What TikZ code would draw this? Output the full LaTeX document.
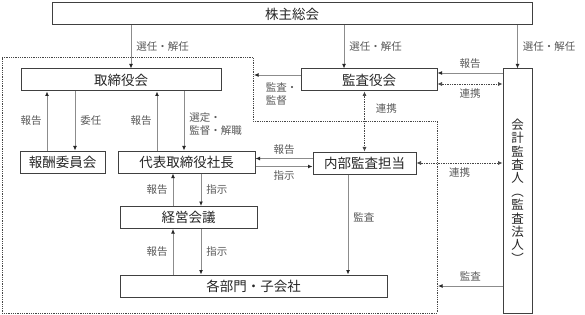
\documentclass[tikz,border=0pt]{standalone}
\usepackage{fontspec}
\setmainfont{Noto Sans CJK JP}
\usetikzlibrary{arrows.meta,positioning}
\definecolor{boxline}{RGB}{64,64,64}
\definecolor{arrline}{RGB}{140,140,140}
\definecolor{labelgray}{RGB}{89,89,89}
\definecolor{dotline}{RGB}{70,70,70}

\begin{document}
\begin{tikzpicture}[x=1pt,y=-1pt,
  unit/.style={draw=boxline,line width=1pt,fill=white,minimum height=22pt,inner sep=0pt,font=\fontsize{13.5}{16}\selectfont,text=black!85},
  arr/.style={arrline,line width=0.9pt,-{Latex[length=4.5pt,width=4pt,color=black!85]}},
  link/.style={dotline,line width=0.7pt,densely dotted,{Latex[length=4.5pt,width=4pt]}-{Latex[length=4.5pt,width=4pt]}},
  zone/.style={dotline,line width=0.8pt,densely dotted},
  lbl/.style={font=\fontsize{10.5}{13}\selectfont,text=labelgray,inner sep=2pt}]
\useasboundingbox (0,0) rectangle (585,315);
\draw[zone] (2,57) -- (253,57) -- (253,121) -- (437,121) -- (437,313) -- (2,313) -- cycle;
\node[unit,minimum width=480pt] (kabu) at (292,14) {株主総会};
\node[unit,minimum width=200pt] (tori) at (121,80) {取締役会};
\node[unit,minimum width=136pt] (kansa) at (369,80) {監査役会};
\node[unit,minimum width=85pt] (hoshu) at (62.5,162) {報酬委員会};
\node[unit,minimum width=137pt] (daihyo) at (186.5,162) {代表取締役社長};
\node[unit,minimum width=103pt] (naibu) at (364.5,163) {内部監査担当};
\node[unit,minimum width=137pt] (keiei) at (188.5,217.5) {経営会議};
\node[unit,minimum width=267pt] (kakubu) at (253.5,286) {各部門・子会社};
\node[unit,minimum width=29pt,minimum height=244pt,align=center,font=\fontsize{12.5}{13.4}\selectfont] (kaikei) at (517.5,191) {会\\計\\監\\査\\人\\︵\\監\\査\\法\\人\\︶};
\coordinate (lim1) at (254,0);
\coordinate (lim2) at (438,0);
\draw[arr] ([xshift=10pt]tori.north |- kabu.south) -- ([xshift=10pt]tori.north) node[lbl,midway,right=3pt] {選任・解任};
\draw[arr] ([xshift=-25pt]kansa.north |- kabu.south) -- ([xshift=-25pt]kansa.north) node[lbl,midway,right=3pt] {選任・解任};
\draw[arr] (kaikei.north |- kabu.south) -- (kaikei.north) node[lbl,midway,right=3pt] {選任・解任};
\draw[arr] ([xshift=-15.5pt]hoshu.north) -- ([xshift=-15.5pt]hoshu.north |- tori.south) node[lbl,midway,left=3pt] {報告};
\draw[arr] ([xshift=12.5pt]hoshu.north |- tori.south) -- ([xshift=12.5pt]hoshu.north) node[lbl,midway,right=3pt] {委任};
\draw[arr] ([xshift=-29.5pt]daihyo.north) -- ([xshift=-29.5pt]daihyo.north |- tori.south) node[lbl,midway,left=3pt] {報告};
\draw[arr] ([xshift=-2.5pt]daihyo.north |- tori.south) -- ([xshift=-2.5pt]daihyo.north) node[lbl,pos=0.55,right=3pt,align=left] {選定・\\監督・解職};
\draw[arr] ([xshift=-15.5pt]keiei.north) -- ([xshift=-15.5pt]keiei.north |- daihyo.south) node[lbl,midway,left=3pt] {報告};
\draw[arr] ([xshift=12.5pt]keiei.north |- daihyo.south) -- ([xshift=12.5pt]keiei.north) node[lbl,midway,right=3pt] {指示};
\draw[arr] ([xshift=-15.5pt]keiei.south |- kakubu.north) -- ([xshift=-15.5pt]keiei.south) node[lbl,midway,left=3pt] {報告};
\draw[arr] ([xshift=12.5pt]keiei.south) -- ([xshift=12.5pt]keiei.south |- kakubu.north) node[lbl,midway,right=3pt] {指示};
\draw[arr] ([yshift=4.5pt]naibu.west) -- ([yshift=4.5pt]naibu.west -| daihyo.east) node[lbl,midway,above=2pt] {報告};
\draw[arr] ([yshift=-4.5pt]daihyo.east) -- ([yshift=-4.5pt]daihyo.east -| naibu.west) node[lbl,midway,below=2pt] {指示};
\draw[arr] ([xshift=-16.5pt]naibu.south) -- ([xshift=-16.5pt]naibu.south |- kakubu.north) node[lbl,pos=0.43,right=3pt] {監査};
\draw[arr] ([yshift=7pt]kansa.east -| kaikei.west) -- ([yshift=7pt]kansa.east) node[lbl,midway,above=2pt] {報告};
\draw[link] ([yshift=-4pt]kansa.east) -- ([yshift=-4pt]kansa.east -| kaikei.west) node[lbl,midway,below=2pt] {連携};
\draw[link] (naibu.north |- kansa.south) -- (naibu.north) node[lbl,pos=0.28,right=9pt] {連携};
\draw[link] (naibu.east) -- (naibu.east -| kaikei.west) node[lbl,midway,below=2pt] {連携};
\draw[arr] (kaikei.west |- kakubu.center) -- (lim2 |- kakubu.center) node[lbl,midway,above=2pt] {監査};
\draw[arr] ([yshift=5pt]kansa.west) -- ([yshift=5pt]kansa.west -| lim1) node[lbl,pos=0.8,anchor=north west,yshift=-5pt,align=left] {監査・\\監督};
\end{tikzpicture}
\end{document}
